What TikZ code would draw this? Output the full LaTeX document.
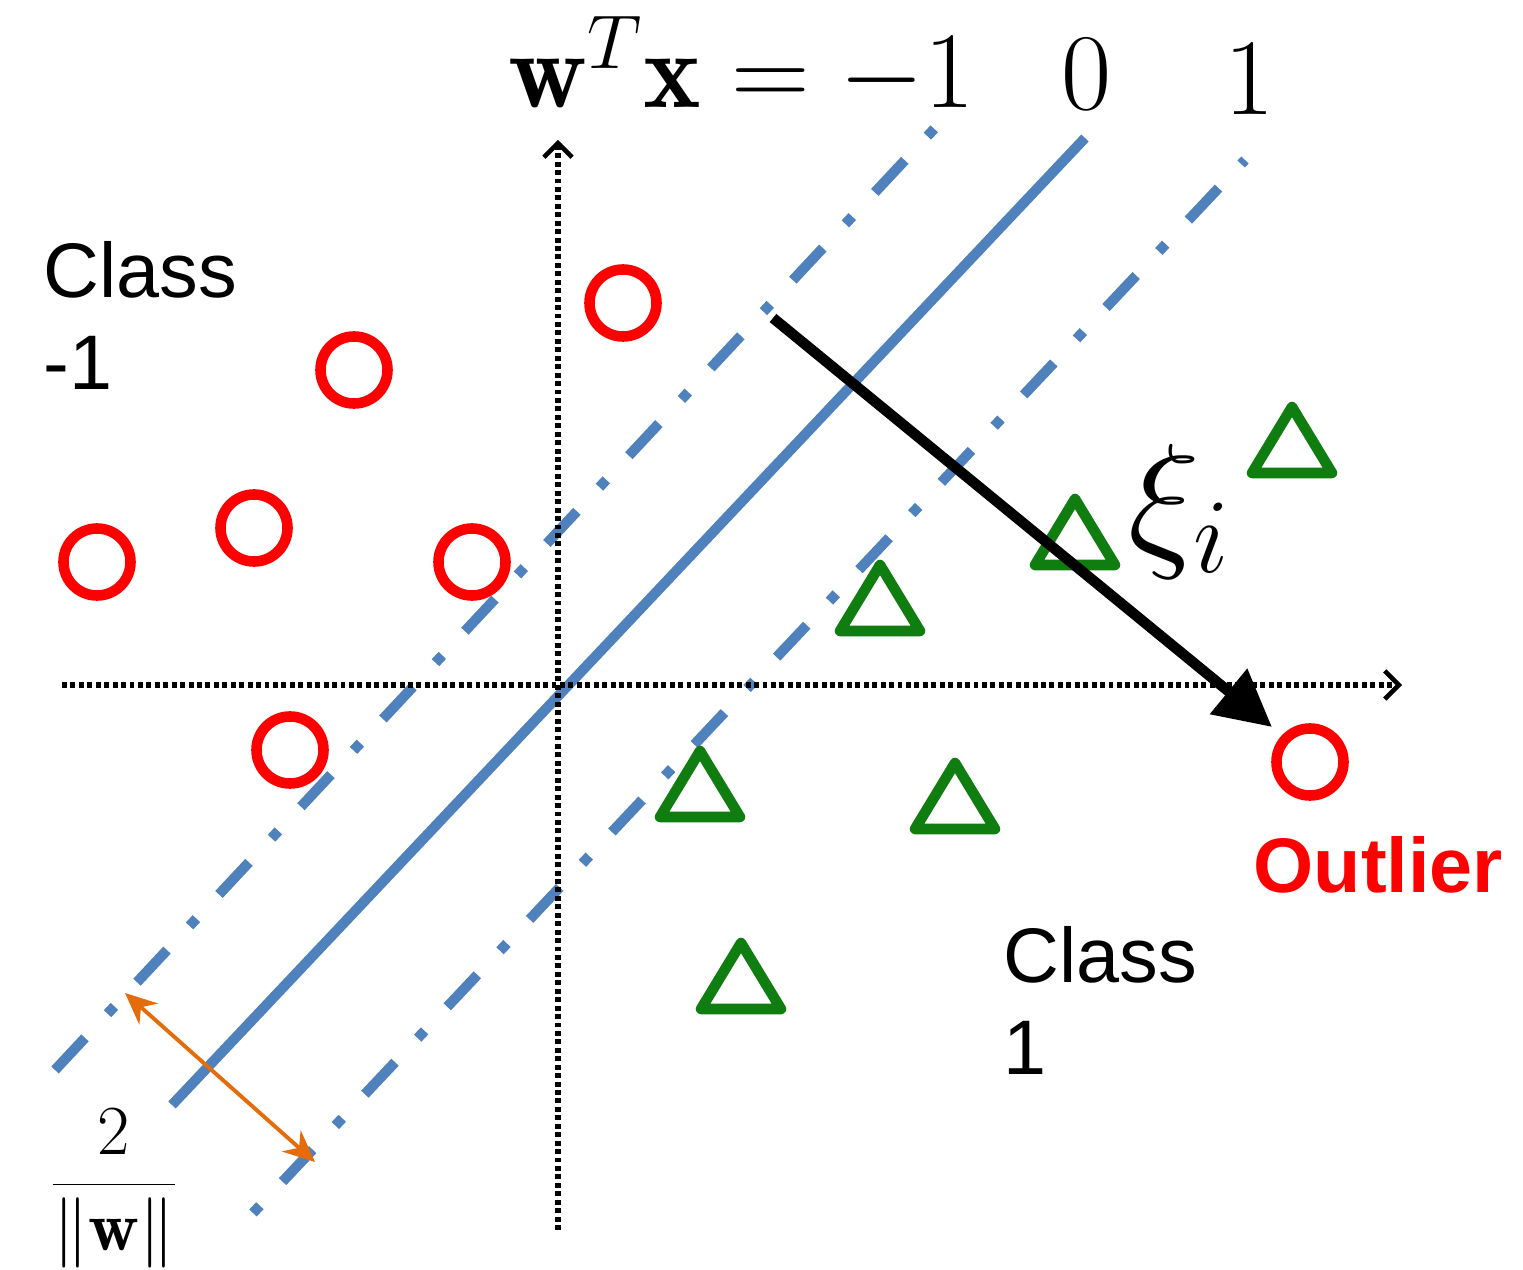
\RequirePackage{fix-cm}
\documentclass[tikz,border=0pt]{standalone}
\usepackage{fontspec}
\setsansfont{Liberation Sans}
\usetikzlibrary{arrows.meta}
\definecolor{lineblue}{RGB}{79,129,189}
\definecolor{ptred}{RGB}{255,0,0}
\definecolor{ptgreen}{RGB}{16,125,16}
\definecolor{marginorange}{RGB}{228,108,10}
\tikzset{
  tri/.pic={\draw[ptgreen,line width=3pt,line join=round] (-40,0) -- (0,-66) -- (40,0) -- cycle;}
}
\begin{document}
\begin{tikzpicture}[x=0.01cm,y=-0.01cm,
  hyper/.style={line width=2.9pt,color=lineblue},
  dotaxis/.style={line width=1.6pt,dash pattern=on 1.4pt off 1.0pt,-{Straight Barb[length=4pt,width=8pt,line width=1.3pt]}},
  redpt/.style={circle,draw=ptred,line width=3pt,minimum size=0.67cm,inner sep=0pt},
  lbl/.style={font=\sffamily\fontsize{22}{26}\selectfont,anchor=base west,inner sep=0pt},
  mathlbl/.style={inner sep=0pt,font=\fontsize{31}{36}\selectfont}
]
\useasboundingbox (0,0) rectangle (1523,1270);

% hyperplanes
\coordinate (m0) at (172,1105); \coordinate (m1) at (1085,138);
\coordinate (n0) at (55,1070);  \coordinate (n1) at (935,128);
\coordinate (p0) at (253,1213); \coordinate (p1) at (1245,160);
\draw[hyper] (m0) -- (m1);
\draw[hyper,dash pattern=on 12.5pt off 9.4pt on 2.85pt off 9.4pt] (n0) -- (n1);
\draw[hyper,dash pattern=on 2.85pt off 9.4pt on 12.5pt off 9.4pt] (p0) -- (p1);

% axes
\coordinate (vo) at (558,1230); \coordinate (vt) at (558,140);
\coordinate (ho) at (62,685);   \coordinate (ht) at (1402,685);
\draw[dotaxis] (vo) -- (vt);
\draw[dotaxis] (ho) -- (ht);

% class -1 points
\node[redpt] (c1) at (623,303) {};
\node[redpt] (c2) at (354,370) {};
\node[redpt] (c3) at (254,528) {};
\node[redpt] (c4) at (97,562) {};
\node[redpt] (c5) at (472,562) {};
\node[redpt] (c6) at (290,750) {};
\node[redpt] (outpt) at (1310,762) {};

% class 1 points
\pic at (1292,473) {tri};
\pic at (1075,565) {tri};
\pic at (880,631) {tri};
\pic at (700,817) {tri};
\pic at (955,829) {tri};
\pic at (741,1009) {tri};

% slack arrow
\coordinate (xs) at (773,318); \coordinate (xe) at (1272,727);
\draw[line width=3pt,-{Triangle[length=16pt,width=16pt]}] (xs) -- (xe);

% margin arrow
\coordinate (oa) at (125,993); \coordinate (ob) at (315,1162);
\draw[marginorange,line width=1.1pt,{Stealth[length=9pt,width=8pt]}-{Stealth[length=9pt,width=8pt]}] (oa) -- (ob);

% labels
\node[lbl] (cl1) at (43,298) {Class};
\node[lbl] (cl1b) at (43,390) {-1};
\node[lbl] (cl2) at (1003,983) {Class};
\node[lbl] (cl2b) at (1003,1075) {1};
\node[lbl,font=\sffamily\bfseries\fontsize{22}{26}\selectfont,text=ptred] (outl) at (1253,893) {Outlier};

\node[mathlbl,anchor=base west] (eq) at (508,108) {$\mathbf{w}^T\mathbf{x}=-1$};
\node[mathlbl,anchor=base] (z0) at (1086,110) {$0$};
\node[mathlbl,anchor=base] (z1) at (1249,115) {$1$};
\node[inner sep=0pt,anchor=base west,font=\fontsize{43}{50}\selectfont] (xi) at (1128,550) {$\xi_i$};
\node[inner sep=0pt,anchor=base,font=\fontsize{20}{24}\selectfont] (frac) at (114,1202) {$\displaystyle\frac{2}{\|\mathbf{w}\|}$};
\end{tikzpicture}
\end{document}
